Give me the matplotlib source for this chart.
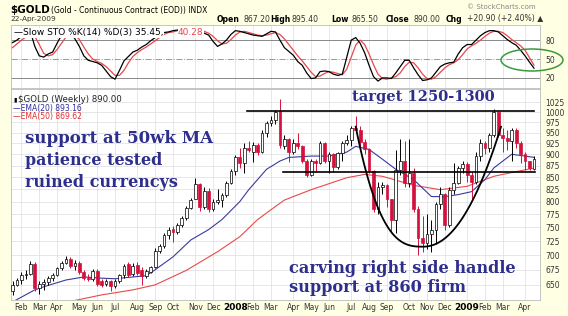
#! -*- coding: utf-8 -*-
import numpy as np
import pandas as pd
import matplotlib
matplotlib.use('Agg')
import matplotlib.pyplot as plt
from matplotlib.patches import Ellipse
from matplotlib.ticker import FixedLocator, NullLocator, FixedFormatter

#---------------------------------
# data
#---------------------------------
start_week = '2007-01-22'

opens = [640, 650, 658, 666, 668, 685, 645, 652, 655, 662,
         667, 678, 686, 694, 681, 686, 671, 662, 660, 673,
         657, 651, 657, 648, 657, 666, 684, 668, 683, 675,
         665, 672, 680, 708, 716, 736, 748, 742, 754, 768,
         788, 806, 835, 790, 822, 785, 800, 803, 813, 838,
         864, 895, 880, 914, 905, 922, 905, 948, 972, 980,
         1003, 918, 935, 905, 925, 918, 885, 855, 885, 880,
         925, 885, 900, 872, 903, 925, 933, 960, 955, 928,
         912, 864, 785, 830, 834, 805, 765, 865, 885, 838,
         858, 785, 730, 722, 737, 745, 795, 815, 755, 823,
         838, 870, 878, 855, 840, 897, 925, 915, 945, 1000,
         945, 938, 930, 955, 925, 900, 885, 867.2]
highs = [656, 662, 672, 674, 690, 688, 656, 660, 665, 670,
         680, 690, 698, 696, 692, 690, 674, 668, 676, 676,
         660, 660, 658, 660, 668, 685, 688, 686, 688, 680,
         676, 682, 712, 720, 740, 750, 752, 758, 772, 792,
         808, 848, 838, 830, 828, 806, 825, 818, 842, 868,
         898, 915, 925, 930, 928, 925, 955, 978, 990, 1005,
         1033, 945, 938, 935, 950, 920, 890, 890, 890, 930,
         928, 905, 902, 905, 930, 945, 965, 990, 965, 935,
         915, 866, 840, 840, 836, 806, 910, 935, 930, 935,
         870, 792, 772, 775, 765, 800, 830, 818, 830, 880,
         875, 885, 882, 862, 905, 935, 930, 950, 1007, 1003,
         960, 955, 960, 960, 930, 905, 885, 895.4]
lows = [634, 648, 652, 660, 666, 640, 636, 642, 650, 656,
        664, 675, 684, 678, 675, 668, 658, 656, 656, 648,
        646, 648, 640, 645, 653, 662, 663, 665, 666, 650,
        662, 669, 678, 703, 712, 728, 724, 738, 750, 765,
        785, 805, 782, 785, 780, 782, 795, 790, 810, 835,
        855, 870, 858, 905, 882, 898, 902, 940, 965, 970,
        915, 912, 882, 900, 912, 880, 850, 852, 862, 878,
        880, 860, 862, 868, 885, 920, 918, 950, 915, 900,
        860, 780, 775, 815, 790, 740, 740, 855, 830, 830,
        780, 700, 705, 710, 705, 720, 785, 745, 750, 815,
        835, 860, 840, 805, 835, 885, 900, 905, 940, 940,
        905, 910, 885, 915, 880, 865, 865, 865.5]
closes = [650, 658, 666, 668, 685, 645, 652, 655, 662, 667,
          678, 686, 694, 681, 686, 671, 662, 660, 673, 651,
          650, 657, 648, 657, 666, 682, 667, 682, 670, 664,
          673, 680, 708, 716, 736, 745, 742, 754, 768, 788,
          804, 835, 790, 822, 785, 800, 803, 813, 838, 864,
          895, 880, 914, 910, 922, 905, 948, 972, 980, 1000,
          920, 935, 905, 925, 918, 885, 855, 885, 880, 925,
          885, 900, 872, 903, 925, 933, 960, 955, 928, 912,
          864, 785, 830, 834, 805, 765, 865, 885, 838, 858,
          785, 730, 722, 737, 745, 795, 815, 755, 823, 838,
          870, 878, 855, 840, 897, 925, 915, 945, 1000, 945,
          938, 930, 955, 925, 900, 885, 870, 890]

# slow stochastics %K(14) and %D(3)
sto_k = [76, 80, 86, 90, 94, 70, 55, 53, 58, 61,
         75, 88, 91, 92, 82, 70, 55, 48, 46, 44,
         40, 31, 22, 18, 32, 47, 54, 61, 64, 69,
         73, 79, 84, 90, 92, 93, 95, 96, 97, 97,
         97, 96, 94, 91, 88, 78, 70, 74, 80, 89,
         95, 94, 92, 90, 88, 87, 86, 90, 94, 93,
         80, 68, 62, 56, 46, 40, 28, 19, 20, 30,
         31, 30, 26, 24, 26, 53, 80, 84, 75, 60,
         40, 22, 15, 20, 20, 19, 28, 38, 48, 48,
         36, 25, 16, 17, 20, 29, 38, 42, 44, 45,
         58, 68, 73, 73, 80, 87, 92, 95, 95, 93,
         87, 81, 76, 72, 64, 55, 45, 35.45]
sto_d = [68, 74, 80, 85, 90, 86, 73, 59, 55, 57,
         65, 75, 85, 90, 88, 81, 69, 58, 50, 46,
         43, 38, 31, 24, 24, 32, 44, 54, 60, 65,
         69, 74, 79, 84, 89, 92, 93, 95, 96, 97,
         97, 97, 96, 94, 91, 86, 79, 74, 75, 81,
         88, 93, 94, 92, 90, 88, 87, 88, 90, 92,
         89, 82, 73, 64, 55, 47, 38, 29, 22, 23,
         27, 30, 29, 27, 25, 34, 53, 72, 80, 73,
         58, 41, 26, 19, 18, 20, 22, 28, 38, 45,
         44, 36, 26, 19, 18, 22, 29, 36, 41, 44,
         49, 57, 66, 71, 75, 80, 86, 91, 94, 94,
         92, 87, 81, 76, 71, 64, 52, 40.28]

# moving averages (sampled from the chart)
ema20_week = [0, 5, 7, 12, 16, 20, 23, 27, 30, 32, 36, 40, 44, 47, 51, 53, 57, 60,
              62, 67, 71, 75, 77, 80, 83, 86, 90, 94, 97, 100, 103, 106, 108, 112, 115, 117]
ema20_val = [623, 642, 647, 658, 663, 661, 660, 663, 665, 675, 697, 727, 746, 765, 800, 824, 867, 885,
             893, 896, 896, 905, 918, 911, 889, 867, 845, 810, 810, 814, 820, 845, 870, 900, 896, 893.16]
ema50_week = [0, 11, 20, 27, 32, 39, 46, 51, 55, 58, 61, 67, 75, 79, 83, 90, 96, 102, 108, 110, 113, 117]
ema50_val = [605, 621, 634, 642, 650, 674, 706, 733, 765, 784, 803, 824, 849, 856, 852, 833, 824, 831,
             852, 856, 862, 869.62]

# hand drawn annotations
target_level = 1003
support_level = 861
cup_bottom_week = 92.1
cup_left_week = 77.0
cup_right_week = 109.6
cup_top = 964
cup_bottom = 715

price_ticks = list(range(650, 1026, 25))
sto_ticks = [20, 50, 80]

#---------------------------------
# helpers
#---------------------------------
W, H = 568, 316

def fx(px):
    return px / W

def fy(py):
    return 1 - py / H

BG = '#FFFFE4'
GRID = '#DDDDDD'
RED = '#D4103C'
NAVY = '#2E2E8C'

#---------------------------------
# figure
#---------------------------------
fig = plt.figure(figsize=(W / 100, H / 100), dpi=100, facecolor=BG)

ax1 = fig.add_axes([fx(11), fy(88), fx(540) - fx(11), fy(25) - fy(88)])
ax2 = fig.add_axes([fx(11), fy(300), fx(540) - fx(11), fy(89) - fy(300)])

n = len(closes)
weeks = np.arange(n)
dates = pd.date_range(start_week, periods=n, freq='7D')
xlim = (-0.34, 118.35)

# month ticks: first bar of each month
tick_pos, tick_lab = [], []
for i in range(1, n):
    if dates[i].month != dates[i - 1].month:
        tick_pos.append(i)
        tick_lab.append(str(dates[i].year) if dates[i].month == 1 else dates[i].strftime('%b'))

for ax in (ax1, ax2):
    ax.set_facecolor('white')
    ax.set_xlim(*xlim)
    for s in ax.spines.values():
        s.set_color('#BBBBBB')
        s.set_linewidth(0.6)
    for p in tick_pos:
        ax.axvline(p, color=GRID, lw=0.5, zorder=0)
    ax.xaxis.set_major_locator(NullLocator())
    ax.yaxis.tick_right()
    ax.tick_params(axis='y', length=0, pad=4, labelsize=5.5, labelcolor='#333333')

# --- stochastics panel ---
ax1.set_ylim(4, 104)
ax1.yaxis.set_major_locator(FixedLocator(sto_ticks))
ax1.axhline(80, color='#888888', lw=0.7, zorder=1)
ax1.axhline(20, color='#888888', lw=0.7, zorder=1)
ax1.axhline(50, color='#999999', lw=0.7, ls='-.', zorder=1)
ax1.plot(weeks, sto_d, color='#E8474C', lw=0.9, zorder=3)
ax1.plot(weeks, sto_k, color='black', lw=0.9, zorder=4)
ax1.text(0.006, 0.88, '\u2014Slow STO %K(14) %D(3) 35.45,', transform=ax1.transAxes,
         fontsize=6.5, va='center', ha='left', zorder=6,
         bbox=dict(facecolor='white', edgecolor='none', pad=0.3))
ax1.text((178 - 11) / (540 - 11), 0.88, '40.28', transform=ax1.transAxes,
         fontsize=6.5, va='center', ha='left', color='#E8474C', zorder=6,
         bbox=dict(facecolor='white', edgecolor='none', pad=0.3))

# --- price panel ---
ax2.set_yscale('log')
ax2.set_ylim(626, 1059)
ax2.yaxis.set_major_locator(FixedLocator(price_ticks))
ax2.yaxis.set_major_formatter(FixedFormatter([str(t) for t in price_ticks]))
ax2.yaxis.set_minor_locator(NullLocator())
for t in price_ticks:
    ax2.axhline(t, color=GRID, lw=0.5, zorder=0)

o = np.array(opens, float)
c = np.array(closes, float)
hi = np.array(highs, float)
lo = np.array(lows, float)
up = c >= o
col = np.where(up, 'black', RED)
ax2.vlines(weeks, lo, hi, colors=col, lw=0.7, zorder=3)
body_lo = np.minimum(o, c)
body_h = np.maximum(np.abs(c - o), 0.8)
ax2.bar(weeks[up], body_h[up], bottom=body_lo[up], width=0.62,
        facecolor='white', edgecolor='black', lw=0.5, zorder=4)
ax2.bar(weeks[~up], body_h[~up], bottom=body_lo[~up], width=0.62,
        facecolor=RED, edgecolor=RED, lw=0.5, zorder=4)

ax2.plot(ema50_week, ema50_val, color='#E84A4A', lw=0.8, zorder=2)
ax2.plot(ema20_week, ema20_val, color='#3A3A9E', lw=0.8, zorder=2)

# annotations drawn on the chart
ax2.plot([52.5, 117.0], [target_level, target_level], color='black', lw=1.2, zorder=5)
ax2.plot([60.7, 117.3], [support_level, support_level], color='black', lw=1.2, zorder=5)
cx = np.linspace(cup_left_week, cup_right_week, 120)
span = np.where(cx < cup_bottom_week, cup_bottom_week - cup_left_week, cup_right_week - cup_bottom_week)
power = np.where(cx < cup_bottom_week, 2.8, 2.1)
frac = (np.abs(cx - cup_bottom_week) / span) ** power
cy = np.exp(np.log(cup_bottom) + (np.log(cup_top) - np.log(cup_bottom)) * frac)
ax2.plot(cx, cy, color='black', lw=1.3, zorder=5)

# legend of the price panel
fig.text(fx(13), fy(100), '\u25AE', fontsize=4.5, va='center', color='black')
fig.text(fx(18), fy(100), '$GOLD (Weekly) 890.00', fontsize=6.2, va='center', color='#222222')
fig.text(fx(13), fy(108), '\u2014EMA(20) 893.16', fontsize=5.5, va='center', color='#2E2E9A')
fig.text(fx(13), fy(116), '\u2014EMA(50) 869.62', fontsize=5.5, va='center', color='#E03030')

# month labels
for p, lab in zip(tick_pos, tick_lab):
    xf = fx(11) + (p - xlim[0]) / (xlim[1] - xlim[0]) * (fx(540) - fx(11))
    bold = lab.isdigit()
    fig.text(xf, fy(308), lab, fontsize=6.5 if bold else 5.5, ha='center', va='center',
             weight='bold' if bold else 'normal', color='black' if bold else '#333333')

# header
fig.text(fx(10), fy(13), '$GOLD', fontsize=7.5, weight='bold', va='baseline')
fig.text(fx(51), fy(13), '(Gold - Continuous Contract (EOD)) INDX', fontsize=5.5, va='baseline')
fig.text(fx(10), fy(21.5), '22-Apr-2009', fontsize=5.3, va='baseline', color='#333333')
fig.text(fx(467), fy(9), '\u00A9 StockCharts.com', fontsize=5, va='baseline', color='#888888')
header = [(217, 'Open', True), (244, '867.20', False), (270, 'High', True), (292, '895.40', False),
          (331, 'Low', True), (352, '865.50', False), (386, 'Close', True), (414, '890.00', False),
          (446, 'Chg', True), (467, '+20.90 (+2.40%) \u25B2', False)]
for px, s, b in header:
    fig.text(fx(px), fy(21.5), s, fontsize=5.6, va='baseline',
             weight='bold' if b else 'normal', color='black' if b else '#333333')

# commentary
serif = dict(family='DejaVu Serif', weight='bold', color=NAVY, va='baseline', ha='left')
fig.text(fx(352), fy(101), 'target 1250-1300', fontsize=10.5, **serif)
fig.text(fx(25), fy(143), 'support at 50wk MA', fontsize=12, **serif)
fig.text(fx(25), fy(165), 'patience tested', fontsize=11.5, **serif)
fig.text(fx(25), fy(187), 'ruined currencys', fontsize=11.5, **serif)
fig.text(fx(289), fy(273), 'carving right side handle', fontsize=11.6, **serif)
fig.text(fx(289), fy(292), 'support at 860 firm', fontsize=11.6, **serif)

# green circle around the stochastics
fig.add_artist(Ellipse((fx(532), fy(60)), fx(62), 22 / H, transform=fig.transFigure,
                       fill=False, edgecolor='#3C9A3C', lw=1.1))

fig.savefig('out.png', dpi=100, facecolor=BG)
